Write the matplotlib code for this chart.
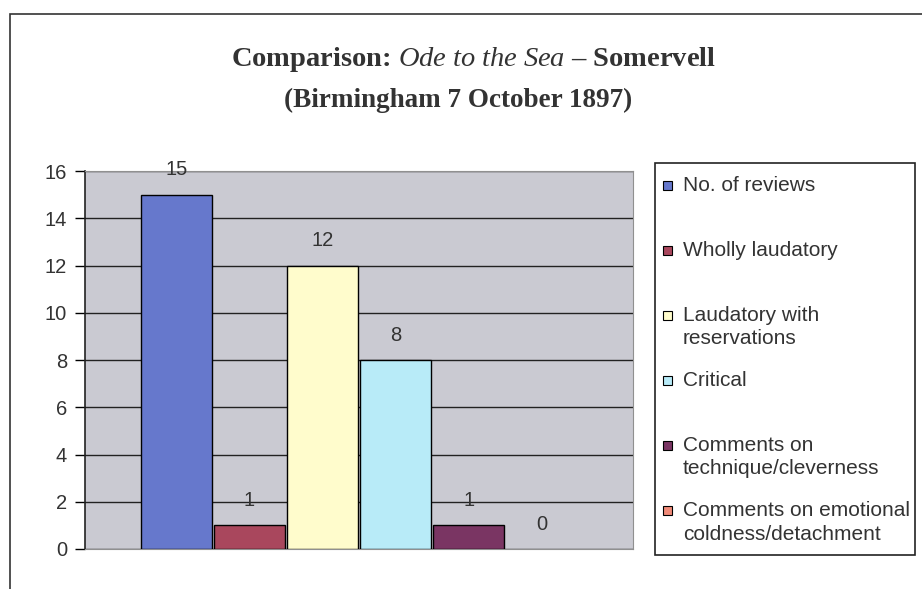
import matplotlib.pyplot as plt
from matplotlib.patches import Rectangle

series = ['No. of reviews', 'Wholly laudatory', 'Laudatory with\nreservations',
          'Critical', 'Comments on\ntechnique/cleverness',
          'Comments on emotional\ncoldness/detachment']
values = [15, 1, 12, 8, 1, 0]
colors = ['#6678cc', '#a9475d', '#fffccc', '#b8ebf8', '#7a3563', '#f08a78']
yticks = [0, 2, 4, 6, 8, 10, 12, 14, 16]

plt.rcParams['font.family'] = ['Liberation Sans', 'DejaVu Sans']
plt.rcParams['mathtext.fontset'] = 'custom'
plt.rcParams['mathtext.rm'] = 'Liberation Serif'
plt.rcParams['mathtext.it'] = 'Liberation Serif:italic'
plt.rcParams['mathtext.bf'] = 'Liberation Serif:bold'

fig = plt.figure(figsize=(9.22, 5.89), dpi=100)
W, H = 922, 589

# outer frame of the scanned chart
fig.patches.append(Rectangle((10 / W, -0.01), 1.0, 1 - 14 / H + 0.01,
                             transform=fig.transFigure, fill=False,
                             edgecolor='#333333', linewidth=1.2))

ax = fig.add_axes([85 / W, 1 - 549 / H, 548 / W, 378 / H])
ax.set_facecolor('#cacad2')

n = len(values)
group = 0.8
bw = group / n
for i, (lab, v, c) in enumerate(zip(series, values, colors)):
    x = -group / 2 + bw * (i + 0.5)
    ax.bar(x, v, width=bw * 0.97, color=c, edgecolor='black',
           linewidth=1.0 if v else 0, zorder=3)
    ax.annotate(str(v), (x, v), xytext=(0, 18), textcoords='offset points',
                ha='center', va='center', fontsize=14.5, color='#333333',
                zorder=4)

ax.set_xlim(-0.5, 0.5)
ax.set_ylim(0, 16)
ax.set_yticks(yticks)
ax.set_xticks([])
ax.yaxis.grid(True, color='#222222', linewidth=1.0, zorder=1)
ax.tick_params(axis='y', length=7, width=1, labelsize=14.5,
               labelcolor='#333333', pad=6)
for s in ['top', 'right', 'bottom']:
    ax.spines[s].set_color('#909090')
ax.spines['left'].set_color('#222222')
ax.spines['left'].set_linewidth(1.2)

# title
fig.text(474 / W, 1 - 60 / H,
         'Comparison: $\\it{Ode\\ to\\ the\\ Sea}$ \u2013 Somervell',
         ha='center', va='center', fontsize=20.5, fontweight='bold',
         family='Liberation Serif', color='#333333')
fig.text(458 / W, 1 - 100 / H, '(Birmingham 7 October 1897)',
         ha='center', va='center', fontsize=19.5, fontweight='bold',
         family='Liberation Serif', color='#333333')

# legend box drawn by hand to keep the uneven Excel layout
fig.patches.append(Rectangle((655 / W, 1 - 555 / H), 260 / W, 392 / H,
                             transform=fig.transFigure, fill=False,
                             edgecolor='#222222', linewidth=1.2))
for i, (lab, c) in enumerate(zip(series, colors)):
    yy = 185 + 65 * i
    fig.patches.append(Rectangle((663 / W, 1 - (yy + 5) / H), 9 / W, 9 / H,
                                 transform=fig.transFigure, facecolor=c,
                                 edgecolor='black', linewidth=0.8))
    fig.text(683 / W, 1 - (yy - 9) / H, lab, ha='left', va='top',
             fontsize=15, color='#333333', linespacing=1.3)

fig.savefig('out.png', dpi=100)
